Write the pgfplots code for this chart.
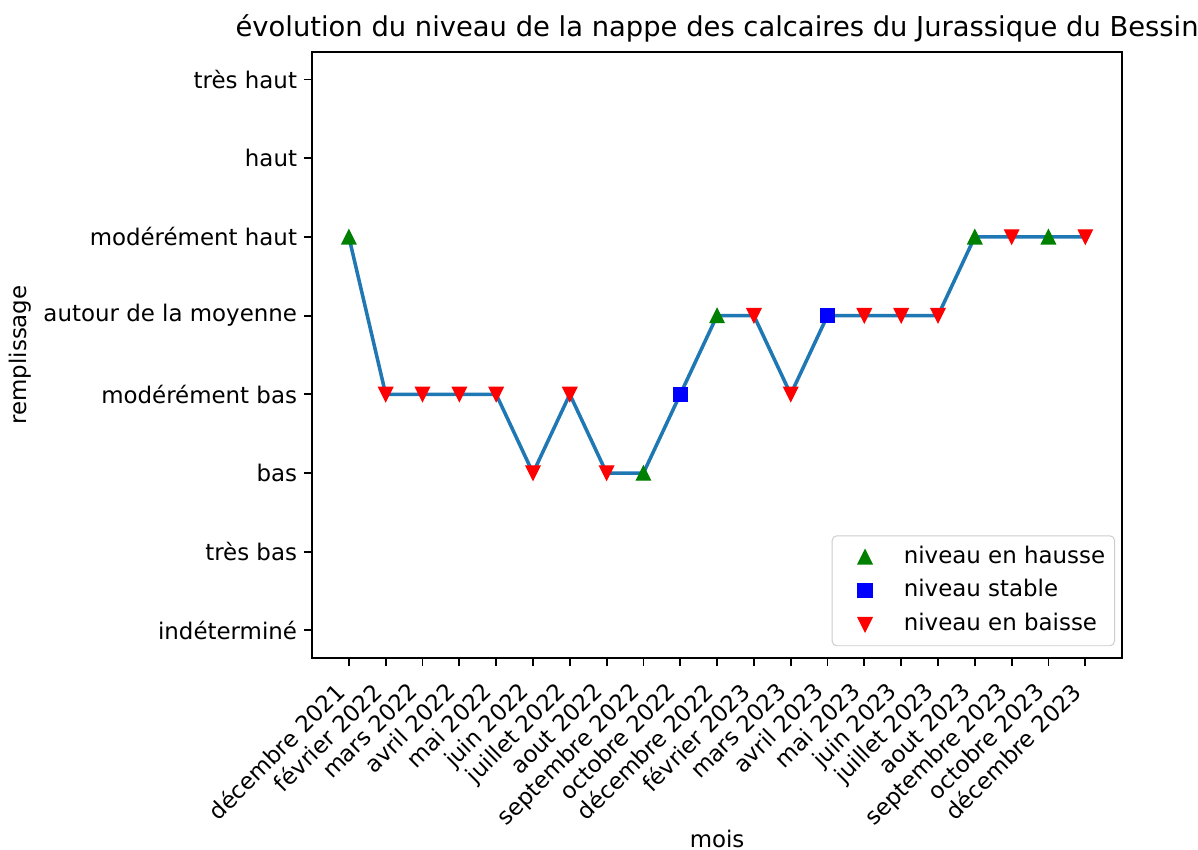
\documentclass[border=0pt]{standalone}
\usepackage{fontspec}
\setmainfont{DejaVu Sans}
\usepackage{pgfplots}
\pgfplotsset{compat=1.18}
\definecolor{mplC0}{HTML}{1F77B4}
\definecolor{mplg}{HTML}{008000}
\definecolor{mplb}{HTML}{0000FF}
\definecolor{mplr}{HTML}{FF0000}
\pgfdeclareplotmark{triup}{%
  \pgfpathmoveto{\pgfqpoint{0pt}{\pgfplotmarksize}}%
  \pgfpathlineto{\pgfqpoint{-\pgfplotmarksize}{-\pgfplotmarksize}}%
  \pgfpathlineto{\pgfqpoint{\pgfplotmarksize}{-\pgfplotmarksize}}%
  \pgfpathclose\pgfusepathqfillstroke}
\pgfdeclareplotmark{tridown}{%
  \pgfpathmoveto{\pgfqpoint{0pt}{-\pgfplotmarksize}}%
  \pgfpathlineto{\pgfqpoint{-\pgfplotmarksize}{\pgfplotmarksize}}%
  \pgfpathlineto{\pgfqpoint{\pgfplotmarksize}{\pgfplotmarksize}}%
  \pgfpathclose\pgfusepathqfillstroke}
\pgfplotstableread{
x y
0 5
1 3
2 3
3 3
4 3
5 2
6 3
7 2
8 2
9 3
10 4
11 4
12 3
13 4
14 4
15 4
16 4
17 5
18 5
19 5
20 5
}\niveau
\pgfplotstableread{
x y
0 5
8 2
10 4
17 5
19 5
}\hausse
\pgfplotstableread{
x y
9 3
13 4
}\stable
\pgfplotstableread{
x y
1 3
2 3
3 3
4 3
5 2
6 3
7 2
11 4
12 3
14 4
15 4
16 4
18 5
20 5
}\baisse
\begin{document}
\begin{tikzpicture}
\useasboundingbox (-132.8pt,-81.7pt) rectangle (377.0pt,280.0pt);
\begin{axis}[
  at={(0,0)}, anchor=south west,
  scale only axis, width=344.7pt, height=257.9pt,
  xmin=-1, xmax=21, ymin=-0.35, ymax=7.35,
  axis line style={line width=0.8pt},
  tick pos=left,
  tick align=outside, major tick length=3.5pt,
  every tick/.style={line width=0.8pt, black},
  xtick={0,...,20},
  xticklabels={décembre 2021,février 2022,mars 2022,avril 2022,mai 2022,juin 2022,juillet 2022,aout 2022,septembre 2022,octobre 2022,décembre 2022,février 2023,mars 2023,avril 2023,mai 2023,juin 2023,juillet 2023,aout 2023,septembre 2023,octobre 2023,décembre 2023},
  ytick={0,...,7},
  yticklabels={indéterminé,très bas,bas,modérément bas,autour de la moyenne,modérément haut,haut,très haut},
  xticklabel style={xshift=-6.5pt, yshift=-5.9pt, rotate=45, anchor=north east, inner sep=0pt, font=\fontsize{9.75}{11.7}\selectfont},
  yticklabel style={anchor=east, inner sep=0pt, xshift=-2.7pt, font=\fontsize{9.75}{11.7}\selectfont},
  every axis title shift=0pt,
  title={évolution du niveau de la nappe des calcaires du Jurassique du Bessin},
  title style={at={(axis description cs:0.5,1.0248)}, anchor=base, inner sep=0pt, font=\fontsize{11.65}{14}\selectfont},
  xlabel={mois},
  xlabel style={at={(axis description cs:0.5,-0.312)}, anchor=base, inner sep=0pt, font=\fontsize{9.75}{11.7}\selectfont},
  ylabel={remplissage},
  ylabel style={at={(axis description cs:-0.3605,0.5)}, anchor=center, inner sep=0pt, font=\fontsize{9.75}{11.7}\selectfont},
  legend style={at={(axis description cs:1,0)}, anchor=south east, xshift=-3pt, yshift=5pt,
    draw=black!20, rounded corners=2pt, fill=white,
    font=\fontsize{9.75}{11.7}\selectfont, row sep=4.4pt, column sep=7pt,
    inner xsep=4pt, inner ysep=4pt,
    nodes={inner sep=0pt, text height=7.6pt, text depth=2.4pt}},
  legend cell align=left,
  legend image code/.code={\path[draw=none, fill=none] (0pt,0pt) -- (19.5pt,0pt); \draw[#1, /tikz/only marks] plot coordinates {(10pt,0pt)};},
]
\addplot[mplC0, line width=1.5pt, mark=none, forget plot] table[x=x,y=y] {\niveau};
\addplot[only marks, mark=triup, mark size=3pt, mplg, draw=mplg, fill=mplg, line width=0.5pt] table[x=x,y=y] {\hausse};
\addlegendentry{niveau en hausse}
\addplot[only marks, mark=square*, mark size=3pt, mplb, draw=mplb, fill=mplb, line width=0.5pt] table[x=x,y=y] {\stable};
\addlegendentry{niveau stable}
\addplot[only marks, mark=tridown, mark size=3pt, mplr, draw=mplr, fill=mplr, line width=0.5pt] table[x=x,y=y] {\baisse};
\addlegendentry{niveau en baisse}
\end{axis}
\end{tikzpicture}
\end{document}
